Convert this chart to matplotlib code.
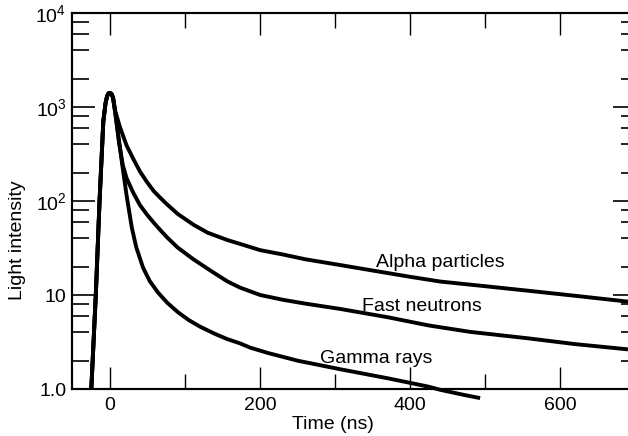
import numpy as np
import matplotlib
matplotlib.use("Agg")
import matplotlib.pyplot as plt
from matplotlib.ticker import FixedLocator, LogLocator, NullFormatter, MultipleLocator

plt.rcParams['font.family'] = ['Liberation Sans', 'DejaVu Sans']
plt.rcParams['mathtext.default'] = 'regular'

# shared rise and peak (time in ns, intensity)
rise_t = [-25, -19, -14, -9, -6, -4, -2, 0, 2, 4]
rise_y = [1.0, 10, 100, 700, 1100, 1300, 1400, 1410, 1380, 1250]

alpha_t = [7, 13, 22, 31, 40, 49, 58, 67, 76, 90, 111, 130, 156, 173, 200,
           230, 260, 307, 350, 400, 440, 500, 557, 620, 690]
alpha_y = [900, 617, 390, 280, 205, 160, 128, 108, 92, 73, 56, 46, 38.5, 35, 30,
           27, 24, 20.8, 18.2, 15.6, 13.9, 12.4, 11.1, 9.8, 8.5]

neutron_t = [7, 12, 17, 22, 31, 40, 49, 58, 67, 76, 90, 111, 120, 137, 156, 173,
             200, 230, 260, 307, 370, 424, 480, 557, 620, 690]
neutron_y = [860, 420, 240, 175, 122, 90, 72, 59, 49, 41, 32, 24, 21.5, 17.5, 14, 12,
             10, 8.9, 8.1, 7.1, 5.8, 4.75, 4.05, 3.46, 3.0, 2.64]

gamma_t = [7, 12, 17, 22, 29, 35, 44, 53, 64, 76, 90, 105, 120, 140, 156, 173,
           187, 210, 250, 307, 370, 424, 440, 470, 493]
gamma_y = [860, 430, 220, 115, 52, 32, 19.5, 14, 10.6, 8.3, 6.6, 5.4, 4.6, 3.85, 3.4, 3.06,
           2.75, 2.42, 2.0, 1.62, 1.3, 1.06, 0.98, 0.87, 0.80]

labels = ['Alpha particles', 'Fast neutrons', 'Gamma rays']
label_pos = [(440, 22.4), (415, 7.6), (354, 2.12)]

ytick_vals = [1, 10, 100, 1000, 10000]
ytick_text = ['1.0', '10', '$10^2$', '$10^3$', '$10^4$']
xtick_vals = [0, 200, 400, 600]

fig = plt.figure(figsize=(6.28, 4.36), dpi=100)
ax = fig.add_axes([72 / 628, 47 / 436, 556 / 628, 376 / 436])

curves = [(alpha_t, alpha_y, True), (neutron_t, neutron_y, True), (gamma_t, gamma_y, False)]
for t, y, clip in curves:
    ax.plot(rise_t + t, rise_y + y, color='black', lw=2.8,
            solid_joinstyle='round', solid_capstyle='butt', clip_on=clip)

for text, (x, y) in zip(labels, label_pos):
    ax.text(x, y, text, ha='center', va='center', fontsize=14)

ax.set_yscale('log')
ax.set_xlim(-50.7, 690)
ax.set_ylim(1, 1e4)

ax.yaxis.set_major_locator(FixedLocator(ytick_vals))
ax.set_yticklabels(ytick_text)
ax.yaxis.set_minor_locator(LogLocator(base=10, subs=[2, 4, 6, 8]))
ax.yaxis.set_minor_formatter(NullFormatter())
ax.set_xticks(xtick_vals)
ax.xaxis.set_minor_locator(MultipleLocator(100))

ax.tick_params(axis='y', which='major', direction='in', length=16.5, width=1.2,
               labelsize=14, pad=4, right=False)
ax.tick_params(axis='y', which='minor', direction='in', length=12, width=1.2, right=False)
ax.tick_params(axis='x', which='major', direction='in', length=16, width=1.0,
               labelsize=14, pad=6, top=True)
ax.tick_params(axis='x', which='minor', direction='in', length=11, width=1.0, top=True)

# right-hand ticks are shorter
ax2 = ax.twinx()
ax2.set_yscale('log')
ax2.set_ylim(ax.get_ylim())
ax2.yaxis.set_major_locator(FixedLocator(ytick_vals))
ax2.yaxis.set_minor_locator(LogLocator(base=10, subs=[2, 4, 6, 8]))
ax2.yaxis.set_major_formatter(NullFormatter())
ax2.yaxis.set_minor_formatter(NullFormatter())
ax2.tick_params(which='major', direction='in', length=11, width=1.2)
ax2.tick_params(which='minor', direction='in', length=5, width=1.2)
for a in (ax, ax2):
    a.spines['right'].set_visible(False)
    for s in ('left', 'top', 'bottom'):
        a.spines[s].set_linewidth(1.5)

ax.set_xlabel('Time (ns)', fontsize=14)
ax.xaxis.set_label_coords(0.4685, -0.072)
ax.set_ylabel('Light intensity', fontsize=14)
ax.yaxis.set_label_coords(-0.083, 0.395)

fig.savefig('out.png', dpi=100)
